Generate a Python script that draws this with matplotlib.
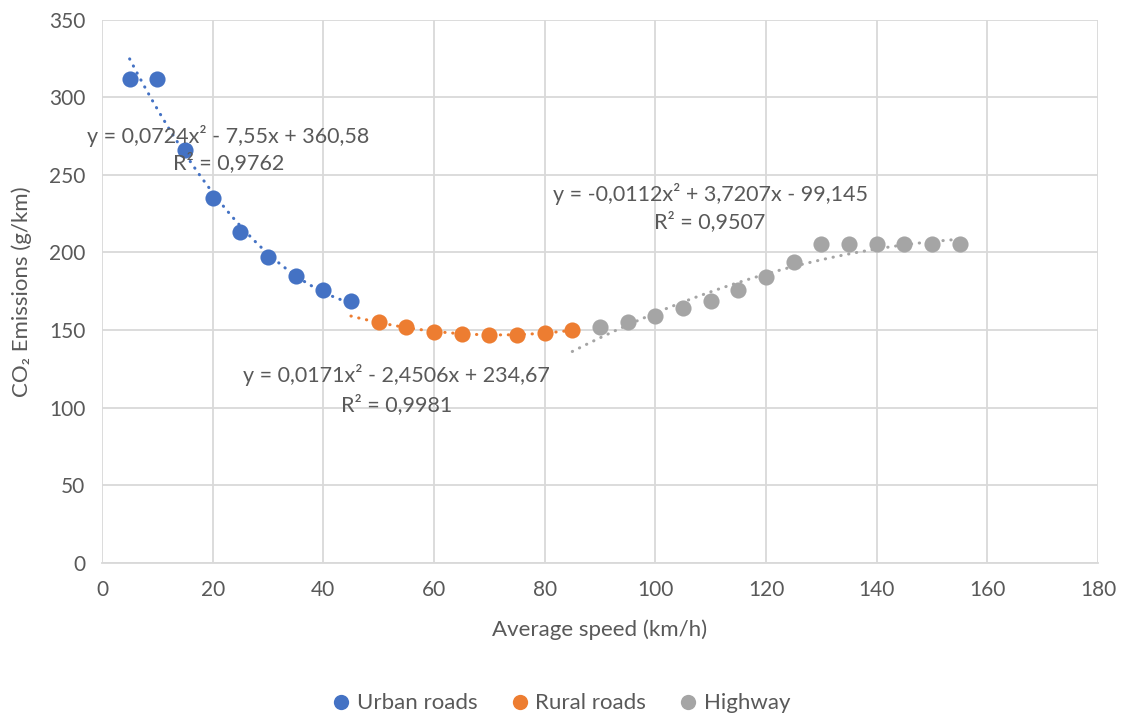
import numpy as np
import matplotlib
matplotlib.use("Agg")
import matplotlib.pyplot as plt
from matplotlib.lines import Line2D

plt.rcParams['font.family'] = ['Lato', 'DejaVu Sans']

# Average speed (km/h) and CO2 emissions (g/km) per road type
urban_x = [5, 10, 15, 20, 25, 30, 35, 40, 45]
urban_y = [312, 312, 266, 235, 213, 197, 185, 176, 169]
rural_x = [50, 55, 60, 65, 70, 75, 80, 85]
rural_y = [155, 152, 149, 147.5, 147, 147, 148, 150]
highway_x = [90, 95, 100, 105, 110, 115, 120, 125, 130, 135, 140, 145, 150, 155]
highway_y = [152, 155, 159, 164, 169, 176, 184, 194, 205.5, 205.5, 205.5, 205.5, 205.5, 205.5]

# Quadratic trendline coefficients (a, b, c) and R²
urban_fit = (0.0724, -7.55, 360.58)
rural_fit = (0.0171, -2.4506, 234.67)
highway_fit = (-0.0112, 3.7207, -99.145)
urban_r2, rural_r2, highway_r2 = 0.9762, 0.9981, 0.9507

# Trendline x-ranges
urban_range = (5, 45)
rural_range = (45, 85)
highway_range = (85, 155)

labels = ["Urban roads", "Rural roads", "Highway"]
colors = ["#4472C4", "#ED7D31", "#A5A5A5"]
text_color = "#595959"
grid_color = "#D9D9D9"

fig = plt.figure(figsize=(11.23, 7.2), dpi=100)
ax = fig.add_axes([0.0908, 0.2181, 0.8869, 0.7548])


def fmt(v):
    return f"{v:g}".replace(".", ",")


def eq_text(coef):
    a, b, c = coef
    s = f"y = {fmt(a)}x² "
    s += ("+ " if b >= 0 else "- ") + f"{fmt(abs(b))}x "
    s += ("+ " if c >= 0 else "- ") + fmt(abs(c))
    return s


series = [
    (urban_x, urban_y, urban_fit, urban_range, urban_r2),
    (rural_x, rural_y, rural_fit, rural_range, rural_r2),
    (highway_x, highway_y, highway_fit, highway_range, highway_r2),
]

for (xs, ys, fit, rng, r2), col in zip(series, colors):
    tx = np.linspace(rng[0], rng[1], 200)
    ty = np.polyval(fit, tx)
    ax.plot(tx, ty, color=col, lw=2.2, linestyle=(0, (0.1, 2.5)),
            dash_capstyle='round', zorder=2)
    ax.scatter(xs, ys, s=135, color=col, zorder=3, linewidths=0)

# Trendline equation labels: (x centre, equation y, R² y)
eq_pos = [(22.8, 275, 257.5), (53.2, 121, 101.7), (109.9, 237.6, 219.6)]
for (fit, r2), (ex, ey, ry) in zip([(urban_fit, urban_r2), (rural_fit, rural_r2),
                                     (highway_fit, highway_r2)], eq_pos):
    ax.text(ex, ey, eq_text(fit), ha='center', va='center', fontsize=15.5,
            color=text_color, zorder=4)
    ax.text(ex, ry, f"R² = {fmt(r2)}", ha='center', va='center', fontsize=15.5,
            color=text_color, zorder=4)

ax.set_xlim(0, 180)
ax.set_ylim(0, 350)
ax.set_xticks(np.arange(0, 181, 20))
ax.set_yticks(np.arange(0, 351, 50))
ax.grid(True, color=grid_color, lw=1.3)
ax.set_axisbelow(True)
for side in ['top', 'right', 'left']:
    ax.spines[side].set_visible(False)
ax.spines['bottom'].set_color(grid_color)
ax.spines['bottom'].set_linewidth(1.3)
ax.tick_params(length=0, labelsize=15, labelcolor=text_color, pad=12)
ax.tick_params(axis='y', pad=12)

ax.set_xlabel("Average speed (km/h)", fontsize=16, color=text_color, labelpad=14)
ax.set_ylabel("CO₂ Emissions (g/km)", fontsize=16, color=text_color, labelpad=12)

handles = [Line2D([], [], marker='o', linestyle='none', markersize=11,
                  markerfacecolor=c, markeredgewidth=0) for c in colors]
fig.legend(handles, labels, loc='center', bbox_to_anchor=(0.5, 0.023), ncol=3,
           frameon=False, fontsize=16, labelcolor=text_color,
           handlelength=0.8, handletextpad=0.3, columnspacing=1.5)

fig.savefig("out.png", dpi=100)
